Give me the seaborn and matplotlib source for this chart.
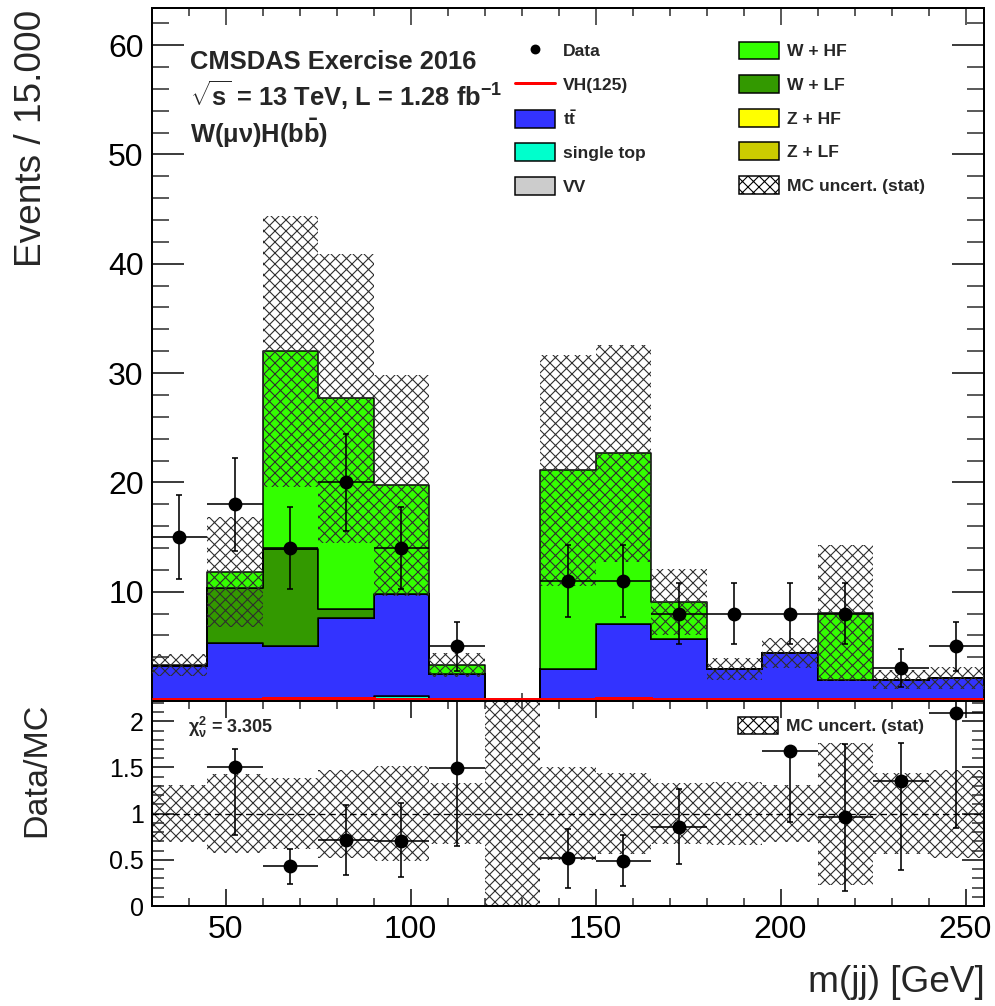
import numpy as np
import pandas as pd
import matplotlib
matplotlib.use("Agg")
import matplotlib.pyplot as plt
import seaborn as sns
from matplotlib.ticker import MultipleLocator, FixedLocator, FixedFormatter
from matplotlib.patches import Patch
from matplotlib.lines import Line2D

# ------------------------------------------------------------------ data
bin_edges = [30, 45, 60, 75, 90, 105, 120, 135, 150, 165, 180, 195, 210, 225, 240, 255]

ttbar      = [3.20, 5.30, 5.05, 7.60, 9.30, 2.40, 0.0, 2.90, 7.00, 5.60, 2.90, 4.40, 1.95, 1.95, 2.10]
single_top = [0.0, 0.05, 0.0, 0.0, 0.45, 0.05, 0.0, 0.0, 0.0, 0.05, 0.0, 0.0, 0.0, 0.0, 0.0]
vv         = [0.0, 0.0, 0.0, 0.0, 0.0, 0.0, 0.0, 0.0, 0.0, 0.0, 0.0, 0.0, 0.0, 0.0, 0.0]
z_lf       = [0.0, 0.0, 0.0, 0.0, 0.0, 0.0, 0.0, 0.0, 0.0, 0.0, 0.0, 0.0, 0.0, 0.0, 0.0]
z_hf       = [0.0, 0.0, 0.0, 0.0, 0.0, 0.0, 0.0, 0.0, 0.0, 0.0, 0.0, 0.0, 0.0, 0.0, 0.0]
w_lf       = [0.0, 4.95, 8.85, 0.85, 0.0, 0.0, 0.0, 0.0, 0.0, 0.0, 0.0, 0.0, 0.0, 0.0, 0.0]
w_hf       = [0.07, 1.52, 18.10, 19.25, 10.0, 0.85, 0.0, 18.20, 15.65, 3.40, 0.0, 0.0, 6.10, 0.0, 0.0]
vh125      = [0.20, 0.22, 0.24, 0.24, 0.22, 0.20, 0.18, 0.22, 0.24, 0.22, 0.20, 0.20, 0.20, 0.18, 0.18]
mc_unc     = [1.0, 5.05, 12.4, 13.2, 10.1, 1.1, 0.0, 10.6, 9.9, 3.0, 1.0, 1.35, 6.2, 0.85, 1.0]

data_obs   = [15, 18, 14, 20, 14, 5, np.nan, 11, 11, 8, 8, 8, 8, 3, 5]

ratio        = [np.nan, 1.51, 0.43, 0.71, 0.70, 1.49, np.nan, 0.52, 0.485, 0.86, np.nan, 1.68, 0.96, 1.355, 2.09]
ratio_err_lo = [np.nan, 0.74, 0.19, 0.37, 0.385, 0.84, np.nan, 0.32, 0.27, 0.41, np.nan, 0.775, 0.795, 0.96, 1.24]
ratio_err_hi = [np.nan, 0.19, 0.19, 0.38, 0.415, 0.80, np.nan, 0.31, 0.28, 0.41, np.nan, 0.0, 0.795, 0.41, 0.60]

chi2_text = r"$\chi^{2}_{\nu}$ = 3.305"

# ------------------------------------------------------------------ style
DPI = 132
W, H = 995, 1006


def pt(px):
    return px * 72.0 / DPI


sns.set_theme(style="ticks")
plt.rcParams["font.family"] = ["Liberation Sans", "DejaVu Sans"]
plt.rcParams["mathtext.fontset"] = "custom"
plt.rcParams["mathtext.rm"] = "Liberation Sans:bold"
plt.rcParams["mathtext.bf"] = "Liberation Sans:bold"
plt.rcParams["mathtext.it"] = "Liberation Sans:italic:bold"
plt.rcParams["mathtext.default"] = "regular"
plt.rcParams["hatch.linewidth"] = pt(1.1)
plt.rcParams["axes.linewidth"] = pt(2.0)

colors = {
    "W + HF": "#33ff00",
    "W + LF": "#339900",
    "Z + HF": "#ffff00",
    "Z + LF": "#cccc00",
    "ttbar": "#3333ff",
    "single top": "#00ffcc",
    "VV": "#cccccc",
}
HATCH_COLOR = "#2e2e2e"
HATCH = "xxxx"

edges = np.array(bin_edges, dtype=float)
centers = 0.5 * (edges[:-1] + edges[1:])
half_w = 0.5 * np.diff(edges)

components = {
    "W + HF": w_hf,
    "W + LF": w_lf,
    "Z + HF": z_hf,
    "Z + LF": z_lf,
    "ttbar": ttbar,
    "single top": single_top,
    "VV": vv,
}
order_top_to_bottom = list(components.keys())
df = pd.DataFrame({
    "mjj": np.concatenate([centers for _ in components]),
    "events": np.concatenate([np.asarray(v, float) for v in components.values()]),
    "process": np.concatenate([[k] * len(centers) for k in components]),
})
total = np.sum([np.asarray(v, float) for v in components.values()], axis=0)
unc = np.asarray(mc_unc, float)
data = np.asarray(data_obs, float)

fig = plt.figure(figsize=(W / DPI, H / DPI), dpi=DPI)
fig.patch.set_facecolor("white")
x_l, x_r = 151.7, 984.0
ax = fig.add_axes([x_l / W, 1 - 701 / H, (x_r - x_l) / W, (701 - 8) / H])
axr = fig.add_axes([x_l / W, 1 - 906 / H, (x_r - x_l) / W, (906 - 701) / H])

# ------------------------------------------------------------------ main panel
sns.histplot(data=df, x="mjj", weights="events", hue="process",
             hue_order=order_top_to_bottom, multiple="stack", bins=bin_edges,
             element="step", fill=True, palette=colors, edgecolor="black",
             linewidth=pt(1.5), alpha=1.0, legend=False, ax=ax)

ax.stairs(total + unc, edges, baseline=total - unc, fill=True,
          facecolor="none", edgecolor=HATCH_COLOR, linewidth=0, hatch=HATCH, zorder=3)
ax.stairs(vh125, edges, baseline=None, color="red", linewidth=pt(3.0), zorder=7)

ax.errorbar(centers, data, xerr=half_w, fmt="none", ecolor="black",
            elinewidth=pt(1.6), capsize=0, zorder=5)
ax.errorbar(centers, data, yerr=np.sqrt(data), fmt="o", color="black",
            markersize=pt(12), elinewidth=pt(1.6), capsize=pt(3),
            capthick=pt(1.6), zorder=6)

ax.set_xlim(30, 255)
ax.set_ylim(0, 63.4)
ax.set_xlabel("")
ax.set_ylabel("")
ax.yaxis.set_major_locator(FixedLocator([10, 20, 30, 40, 50, 60]))
ax.yaxis.set_minor_locator(MultipleLocator(2))
ax.xaxis.set_major_locator(MultipleLocator(50))
ax.xaxis.set_minor_locator(MultipleLocator(10))
ax.tick_params(axis="y", which="major", direction="in", length=pt(32), width=pt(1.5),
               left=True, right=True, labelsize=pt(32), pad=pt(8), colors="black")
ax.tick_params(axis="y", which="minor", direction="in", length=pt(17), width=pt(1.5),
               left=True, right=True)
ax.tick_params(axis="x", which="major", direction="in", length=pt(17), width=pt(1.5),
               top=True, bottom=True, labelbottom=False)
ax.tick_params(axis="x", which="minor", direction="in", length=pt(8), width=pt(1.5),
               top=True, bottom=True)
for s in ax.spines.values():
    s.set_color("black")
    s.set_linewidth(pt(2.0))

# legend (two columns)
leg_fs = pt(17.5)
leg_kw = dict(prop={"weight": "bold", "size": leg_fs}, frameon=False, loc="upper left",
              bbox_transform=fig.transFigure, borderpad=0, borderaxespad=0,
              handlelength=40 / 17.5, handleheight=21 / 17.5, handletextpad=8 / 17.5,
              labelspacing=(36.7 - 21) / 17.5)
box_lw = pt(1.5)
h1 = [Line2D([], [], marker="o", ls="none", color="black", markersize=pt(8)),
      Line2D([], [], color="red", lw=pt(3.0)),
      Patch(facecolor=colors["ttbar"], edgecolor="black", lw=box_lw),
      Patch(facecolor=colors["single top"], edgecolor="black", lw=box_lw),
      Patch(facecolor=colors["VV"], edgecolor="black", lw=box_lw)]
l1 = ["Data", "VH(125)", r"t$\bar{t}$", "single top", "VV"]
h2 = [Patch(facecolor=colors["W + HF"], edgecolor="black", lw=box_lw),
      Patch(facecolor=colors["W + LF"], edgecolor="black", lw=box_lw),
      Patch(facecolor=colors["Z + HF"], edgecolor="black", lw=box_lw),
      Patch(facecolor=colors["Z + LF"], edgecolor="black", lw=box_lw),
      Patch(facecolor="white", edgecolor="black", lw=box_lw, hatch=HATCH)]
l2 = ["W + HF", "W + LF", "Z + HF", "Z + LF", "MC uncert. (stat)"]
leg1 = ax.legend(h1, l1, bbox_to_anchor=(515 / W, 1 - 41.5 / H), **leg_kw)
ax.add_artist(leg1)
leg2 = ax.legend(h2, l2, bbox_to_anchor=(739 / W, 1 - 41.5 / H), **leg_kw)

# label block
txt_fs = pt(25.5)
fig.text(190 / W, 1 - 69 / H, "CMSDAS Exercise 2016", ha="left", va="baseline",
         fontsize=txt_fs, fontweight="bold")
fig.text(190 / W, 1 - 106 / H, r"$\sqrt{s}$ = 13 TeV, L = 1.28 fb$^{-1}$", ha="left",
         va="baseline", fontsize=txt_fs, fontweight="bold")
fig.text(190 / W, 1 - 143 / H, r"W($\mu\nu$)H(b$\bar{b}$)", ha="left", va="baseline",
         fontsize=txt_fs, fontweight="bold")

# ------------------------------------------------------------------ ratio panel
rel = np.divide(unc, total, out=np.full_like(total, np.nan), where=total > 0)
band_hi = np.where(total > 0, 1 + rel, 10.0)
band_lo = np.where(total > 0, 1 - rel, 0.0)
axr.stairs(band_hi, edges, baseline=band_lo, fill=True, facecolor="none",
           edgecolor=HATCH_COLOR, linewidth=0, hatch=HATCH, zorder=2)
axr.axhline(1.0, color="black", lw=pt(1.3), ls=(0, (5, 3)), zorder=3)

r = np.asarray(ratio, float)
axr.errorbar(centers, r, xerr=half_w, fmt="none", ecolor="black",
             elinewidth=pt(1.6), capsize=0, zorder=5)
axr.errorbar(centers, r, yerr=[ratio_err_lo, ratio_err_hi], fmt="o", color="black",
             markersize=pt(12), elinewidth=pt(1.6), capsize=pt(3),
             capthick=pt(1.6), zorder=6)

axr.set_xlim(30, 255)
axr.set_ylim(0, 2.22)
axr.yaxis.set_major_locator(FixedLocator([0, 0.5, 1, 1.5, 2]))
axr.yaxis.set_major_formatter(FixedFormatter(["0", "0.5", "1", "1.5", "2"]))
axr.yaxis.set_minor_locator(MultipleLocator(0.1))
axr.xaxis.set_major_locator(MultipleLocator(50))
axr.xaxis.set_minor_locator(MultipleLocator(10))
axr.tick_params(axis="y", which="major", direction="in", length=pt(22), width=pt(1.5),
                left=True, right=True, labelsize=pt(25), pad=pt(8), colors="black")
axr.tick_params(axis="y", which="minor", direction="in", length=pt(12), width=pt(1.5),
                left=True, right=True)
axr.tick_params(axis="x", which="major", direction="in", length=pt(17), width=pt(1.5),
                top=True, bottom=True, labelsize=pt(32), pad=pt(9), colors="black")
axr.tick_params(axis="x", which="minor", direction="in", length=pt(8), width=pt(1.5),
                top=True, bottom=True)
for s in axr.spines.values():
    s.set_color("black")
    s.set_linewidth(pt(2.0))

axr.text(188 / W, 1 - 727 / H, chi2_text, transform=fig.transFigure, ha="left",
         va="center", fontsize=pt(18), fontweight="bold")
axr.legend([Patch(facecolor="white", edgecolor="black", lw=box_lw, hatch=HATCH)],
           ["MC uncert. (stat)"], prop={"weight": "bold", "size": leg_fs},
           frameon=False, loc="upper left", bbox_to_anchor=(738 / W, 1 - 717 / H),
           bbox_transform=fig.transFigure, borderpad=0, borderaxespad=0,
           handlelength=40 / 17.5, handleheight=19 / 17.5, handletextpad=8 / 17.5)

# axis titles
fig.text(32 / W, 1 - 10 / H, "Events / 15.000", rotation=90, ha="center", va="top",
         fontsize=pt(37))
fig.text(37 / W, 1 - 703 / H, "Data/MC", rotation=90, ha="center", va="top",
         fontsize=pt(34))
fig.text(985 / W, 1 - 965 / H, "m(jj) [GeV]", ha="right", va="top", fontsize=pt(37))

fig.savefig("out.png", dpi=DPI, facecolor="white")
